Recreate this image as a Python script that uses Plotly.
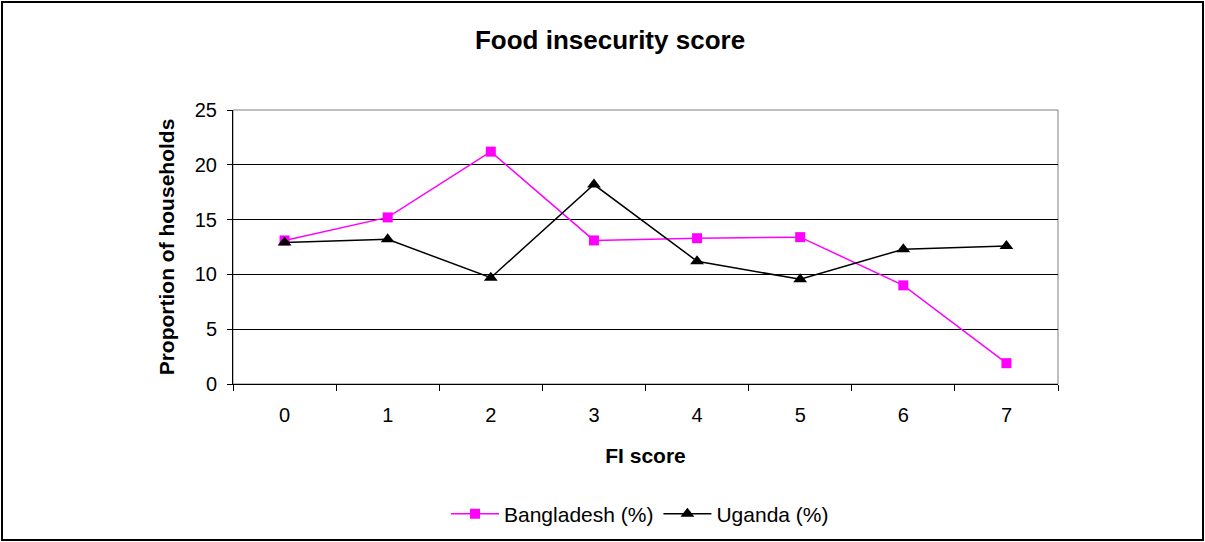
import plotly.graph_objects as go

categories = ["0", "1", "2", "3", "4", "5", "6", "7"]
bangladesh = [13.1, 15.2, 21.2, 13.1, 13.3, 13.4, 9.0, 1.9]
uganda = [12.9, 13.2, 9.7, 18.2, 11.2, 9.55, 12.3, 12.6]

W, H = 1205, 542
L, R, T, B = 233, 1058, 110, 384

fig = go.Figure()
fig.add_trace(go.Scatter(
    x=categories, y=bangladesh, name="Bangladesh (%)", mode="lines+markers",
    line=dict(color="#FF00FF", width=1.5),
    marker=dict(symbol="square", size=10, color="#FF00FF"),
))
fig.add_trace(go.Scatter(
    x=categories, y=uganda, name="Uganda (%)", mode="lines+markers",
    line=dict(color="#000000", width=1.5),
    marker=dict(symbol="triangle-up", size=12, color="#000000"),
))

pw, ph = R - L, B - T
def px(x):
    return (x - L) / pw
def py(y):
    return (B - y) / ph

fig.update_layout(
    width=W, height=H, autosize=False,
    margin=dict(l=L, r=W - R, t=T, b=H - B, autoexpand=False),
    paper_bgcolor="white", plot_bgcolor="white",
    font=dict(family="Liberation Sans, Arial, sans-serif", size=20, color="black"),
    title=dict(text="<b>Food insecurity score</b>", xref="container", x=610 / W, xanchor="center",
               yref="container", y=1 - 40 / H, yanchor="middle", font=dict(size=26)),
    showlegend=True,
    legend=dict(orientation="h", x=px(640), xanchor="center", y=py(514), yanchor="middle",
                itemwidth=48, font=dict(size=21), bgcolor="rgba(0,0,0,0)"),
    xaxis=dict(
        type="category", tickson="boundaries", ticks="outside", ticklen=6,
        tickcolor="black", showline=True, linecolor="black", linewidth=1,
        showgrid=False, range=[-0.5, 7.5], automargin=False,
        ticklabelstandoff=13,
        title=dict(text="<b>FI score</b>", font=dict(size=21), standoff=23),
        tickfont=dict(size=20),
    ),
    yaxis=dict(
        range=[0, 25], dtick=5, ticks="outside", ticklen=5, tickcolor="black",
        showline=True, linecolor="black", linewidth=1, automargin=False,
        showgrid=True, gridcolor="black", gridwidth=1, zeroline=False,
        ticklabelstandoff=6,
        title=dict(text="<b>Proportion of households</b>", font=dict(size=21), standoff=14),
        tickfont=dict(size=20),
    ),
    shapes=[
        dict(type="rect", xref="paper", yref="paper", x0=0, x1=1, y0=0, y1=1,
             line=dict(color="#808080", width=1), layer="below"),
        dict(type="rect", xref="paper", yref="paper",
             x0=px(2), x1=px(W - 2), y0=py(H - 2), y1=py(2),
             line=dict(color="black", width=2)),
    ],
)

fig.write_html("out.html", config={"displayModeBar": False, "responsive": False})
with open("out.html", "r", encoding="utf-8") as f:
    html = f.read()
html = html.replace("<body>", '<body style="margin:0;padding:0;overflow:hidden">', 1)
with open("out.html", "w", encoding="utf-8") as f:
    f.write(html)
